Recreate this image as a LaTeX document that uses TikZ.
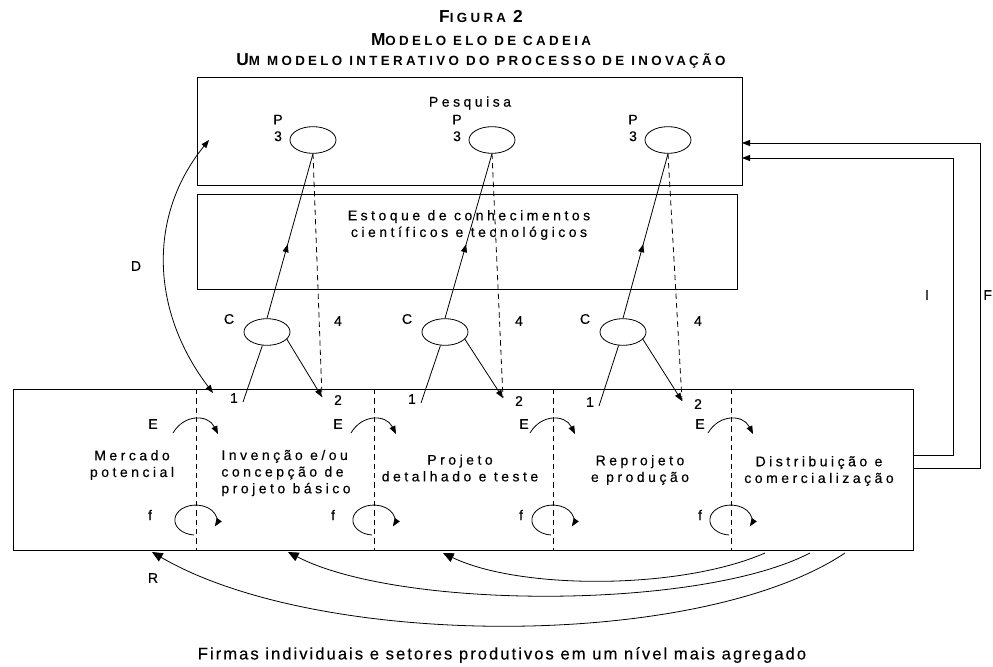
\documentclass[tikz,border=0pt]{standalone}
\usepackage{fontspec}
\setmainfont{Liberation Sans}
\newfontfamily\lblfont{Liberation Sans}[LetterSpace=25, FakeBold=0.4]
\newfontfamily\ttlfont{Liberation Sans}[LetterSpace=25]
\newfontfamily\footfont{Liberation Sans}[LetterSpace=12, FakeBold=0.3]
\usetikzlibrary{
    arrows.meta,
    shapes.geometric,
    decorations.markings,
    positioning
}
\newcommand{\tsc}[2]{{\fontsize{13}{15}\selectfont #1}{\fontsize{10}{12}\selectfont #2}}

\begin{document}
\begin{tikzpicture}[x=0.75pt, y=-0.75pt, line width=0.6pt,
    >={Triangle[length=6pt,width=4.5pt]},
    lbl/.style={font=\lblfont\fontsize{10.5}{12.5}\selectfont, inner sep=0pt, align=center},
    ttl/.style={font=\ttlfont\bfseries, inner sep=0pt},
    bubble/.style={ellipse, draw, minimum width=34.5pt, minimum height=20pt, inner sep=0pt},
    sep/.style={dash pattern=on 4pt off 3pt},
    midarrow/.style={postaction={decorate}, decoration={markings,
        mark=at position 0.45 with {\arrow{Triangle[length=6pt,width=4.5pt]}}}}
]
    \useasboundingbox (0,0) rectangle (993,667);

    % titulo
    \node[ttl] (fig) at (481,17) {\tsc{F}{IGURA} \tsc{2}{}};
    \node[ttl] (modelo) at (481,40) {\tsc{M}{ODELO ELO DE CADEIA}};
    \node[ttl] (sub) at (481,61) {\tsc{U}{M MODELO INTERATIVO DO PROCESSO DE INOVAÇÃO}};

    % caixas
    \draw (197,77) rectangle (742,185);
    \draw (197,194) rectangle (737,289);
    \draw (13,389) rectangle (913,550);
    \node[lbl] (pesq) at (470,103) {Pesquisa};
    \node[lbl] (estoque) at (469,225) {Estoque de conhecimentos\\científicos e tecnológicos};

    \node[lbl] (mercado) at (132,465) {Mercado\\potencial};
    \node[lbl, align=left] (invencao) at (286,473) {Invenção e/ou\\concepção de\\projeto básico};
    \node[lbl] (projeto) at (460,468) {Projeto\\detalhado e teste};
    \node[lbl] (reprojeto) at (640,470) {Reprojeto\\e produção};
    \node[lbl] (distrib) at (819,471) {Distribuição e\\comercialização};

    % pesquisa e conhecimento
    \foreach \i/\px/\cx/\tx/\ty in {1/313/267/322/397, 2/492/445/503/398, 3/668/623/682/401} {
        \node[bubble] (p\i) at (\px,140) {};
        \node[lbl] (pl\i) at (\px-35,128) {P\\3};
        \node[bubble] (c\i) at (\cx,332) {};
        \node[lbl] (cl\i) at (\cx-38,319) {C};
        \node[lbl] (ql\i) at (\tx+16,321) {4};
        \coordinate (t\i) at (\tx,\ty);
        \coordinate (o\i) at (\cx-24,\ty+5);
        \node[lbl] (ol\i) at (\cx-33,\ty+1) {1};
        \node[lbl] (tl\i) at (\tx+16,\ty+3) {2};
        \draw[midarrow] (c\i.north) -- (p\i.south);
        \draw (c\i) -- (o\i);
        \draw[->] (c\i.-20) -- (t\i);
        \draw[sep] (p\i.south) -- (t\i);
    }

    % etapas
    \foreach \s/\e/\f in {196/153/150, 374/338/333, 553/524/521, 731/700/700} {
        \draw[sep] (\s,389) -- (\s,550);
        \node[lbl] (e\s) at (\e,424) {E};
        \draw[->] (\s-23,433) .. controls (\s-12,414) and (\s+12,414) .. (\s+22,434);
        \node[lbl] (f\s) at (\f,515) {f};
        \draw[->] (\s-2,535) arc[start angle=95, end angle=385, x radius=21, y radius=15];
    }

    % D
    \coordinate (d1) at (209,140);
    \coordinate (d2) at (213,393);
    \draw[<->] (d1) .. controls (148,215) and (150,310) .. (d2);
    \node[lbl] (dl) at (136,266) {D};

    % I e F
    \coordinate (pin1) at (742,143);
    \coordinate (pin2) at (742,158);
    \coordinate (fout1) at (913,468);
    \coordinate (fout2) at (913,455);
    \draw[->] (fout2) -- ++(40,0) |- (pin2);
    \draw[->] (fout1) -- ++(67,0) |- (pin1);
    \node[lbl] (il) at (927,295) {I};
    \node[lbl, anchor=west] (fl) at (983,295) {F};

    % R
    \coordinate (r1s) at (765,553);
    \coordinate (r1e) at (443,553);
    \coordinate (r2s) at (810,553);
    \coordinate (r2e) at (288,552);
    \coordinate (r3s) at (845,553);
    \coordinate (r3e) at (152,552);
    \draw[-{Triangle[length=8pt,width=7pt]}] (r1s) .. controls (680,590) and (520,590) .. (r1e);
    \draw[-{Triangle[length=8pt,width=7pt]}] (r2s) .. controls (700,610) and (400,610) .. (r2e);
    \draw[-{Triangle[length=8pt,width=7pt]}] (r3s) .. controls (700,650) and (320,650) .. (r3e);
    \node[lbl] (rl) at (153,578) {R};

    \node[font=\footfont\fontsize{12.5}{14}\selectfont, inner sep=0pt] (foot) at (502,655)
        {Firmas individuais e setores produtivos em um nível mais agregado};
\end{tikzpicture}
\end{document}
